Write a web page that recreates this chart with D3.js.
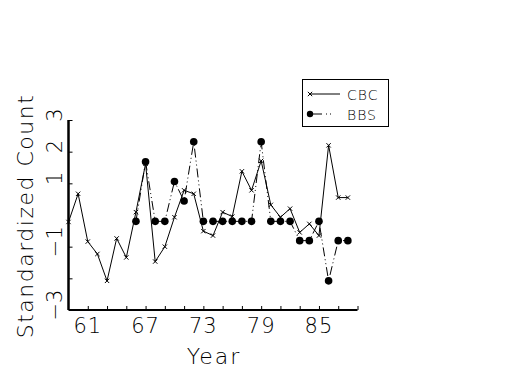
<!DOCTYPE html>
<html>
<head>
<meta charset="utf-8">
<script src="https://cdn.jsdelivr.net/npm/d3@7"></script>
<style>
  body { margin: 0; background: #fff; }
  text { font-family: "DejaVu Sans", sans-serif; font-weight: 200; fill: #000; }
</style>
</head>
<body>
<svg id="chart" width="525" height="375"></svg>
<script>
// CBC runs 1959-1988, BBS starts 1966
const cbc_years = d3.range(59, 89);
const cbc_values = [-0.22, 0.67, -0.84, -1.23, -2.08, -0.74, -1.34, 0.09, 1.62, -1.47,
    -1.0, -0.07, 0.78, 0.67, -0.51, -0.65, 0.09, -0.05, 1.38, 0.78,
    1.71, 0.32, -0.07, 0.2, -0.55, -0.28, -0.65, 2.2, 0.55, 0.55];
const bbs_years = d3.range(66, 89);
const bbs_values = [-0.2, 1.68, -0.2, -0.2, 1.06, 0.44, 2.31, -0.2, -0.2, -0.2,
    -0.2, -0.2, -0.2, 2.31, -0.2, -0.2, -0.2, -0.81, -0.81, -0.2,
    -2.08, -0.81, -0.81];
const x_ticks = d3.range(61, 90, 2);
const x_labels = [61, 67, 73, 79, 85];
const y_ticks = [3, 2, 1, -1, -2];
const y_labels = [3, 2, 1, -1, -3];

const svg = d3.select("#chart");

const x = d3.scaleLinear().domain([59, 89]).range([68.5, 357.5]);
const y = d3.scaleLinear().domain([-3, 3]).range([310, 120]);

const cbc = cbc_years.map((yr, i) => ({ year: yr, value: cbc_values[i] }));
const bbs = bbs_years.map((yr, i) => ({ year: yr, value: bbs_values[i] }));

const line = d3.line().x(d => x(d.year)).y(d => y(d.value));

// BBS first, CBC drawn over it
svg.append("path")
    .datum(bbs)
    .attr("d", line)
    .attr("fill", "none")
    .attr("stroke", "#000")
    .attr("stroke-width", 1)
    .attr("stroke-dasharray", "9,3,1,3,1,3");

svg.append("g")
    .selectAll("circle")
    .data(bbs)
    .enter()
    .append("circle")
    .attr("cx", d => x(d.year))
    .attr("cy", d => y(d.value))
    .attr("r", 3.8)
    .attr("fill", "#000");

svg.append("path")
    .datum(cbc)
    .attr("d", line)
    .attr("fill", "none")
    .attr("stroke", "#000")
    .attr("stroke-width", 1);

const cross = d3.symbol().type(d3.symbolX).size(14);
svg.append("g")
    .selectAll("path")
    .data(cbc)
    .enter()
    .append("path")
    .attr("d", cross)
    .attr("transform", d => `translate(${x(d.year)},${y(d.value)})`)
    .attr("fill", "none")
    .attr("stroke", "#000")
    .attr("stroke-width", 1);

// axes: inward ticks, labels only at some ticks
const x_axis = d3.axisTop(x).tickValues(x_ticks).tickSize(4).tickFormat("");
svg.append("g")
    .attr("transform", `translate(0,${y(-3)})`)
    .call(x_axis)
    .call(g => g.select(".domain").remove())
    .call(g => g.selectAll("line").attr("stroke", "#000"));

const y_axis = d3.axisRight(y).tickValues(y_ticks).tickSize(4).tickFormat("");
svg.append("g")
    .attr("transform", `translate(${x(59)},0)`)
    .call(y_axis)
    .call(g => g.select(".domain").remove())
    .call(g => g.selectAll("line").attr("stroke", "#000"));

svg.append("line")
    .attr("x1", x(59)).attr("x2", x(89))
    .attr("y1", y(-3)).attr("y2", y(-3))
    .attr("stroke", "#000").attr("stroke-width", 2);
svg.append("line")
    .attr("x1", x(59)).attr("x2", x(59))
    .attr("y1", y(-3)).attr("y2", y(3))
    .attr("stroke", "#000").attr("stroke-width", 2.5);

svg.append("g")
    .selectAll("text")
    .data(x_labels)
    .enter()
    .append("text")
    .attr("x", d => x(d))
    .attr("y", 333)
    .attr("text-anchor", "middle")
    .attr("font-size", 21)
    .attr("letter-spacing", 1)
    .text(d => d);

svg.append("g")
    .selectAll("text")
    .data(y_labels)
    .enter()
    .append("text")
    .attr("transform", d => `translate(62,${y(d) - 5}) rotate(-90)`)
    .attr("text-anchor", "middle")
    .attr("font-size", 21)
    .text(d => d < 0 ? "\u2212" + Math.abs(d) : d);

svg.append("text")
    .attr("x", 214)
    .attr("y", 364)
    .attr("text-anchor", "middle")
    .attr("font-size", 22)
    .attr("letter-spacing", 2)
    .text("Year");

svg.append("text")
    .attr("transform", "translate(33,216) rotate(-90)")
    .attr("text-anchor", "middle")
    .attr("font-size", 22)
    .attr("letter-spacing", 1.5)
    .text("Standardized Count");

// legend
const legend = svg.append("g");
legend.append("rect")
    .attr("x", 302.5).attr("y", 79.5)
    .attr("width", 86).attr("height", 47)
    .attr("fill", "none").attr("stroke", "#000");

legend.append("line")
    .attr("x1", 310).attr("x2", 340).attr("y1", 94).attr("y2", 94)
    .attr("stroke", "#000");
legend.append("path")
    .attr("d", cross)
    .attr("transform", "translate(310,94)")
    .attr("fill", "none").attr("stroke", "#000");
legend.append("text")
    .attr("x", 347).attr("y", 99.5)
    .attr("font-size", 14)
    .attr("letter-spacing", 1)
    .text("CBC");

legend.append("line")
    .attr("x1", 310).attr("x2", 340).attr("y1", 114).attr("y2", 114)
    .attr("stroke", "#000")
    .attr("stroke-dasharray", "12,4,1,3,1,20");
legend.append("circle")
    .attr("cx", 310).attr("cy", 114).attr("r", 3.2)
    .attr("fill", "#000");
legend.append("text")
    .attr("x", 347).attr("y", 119.5)
    .attr("font-size", 14)
    .attr("letter-spacing", 1)
    .text("BBS");
</script>
</body>
</html>
